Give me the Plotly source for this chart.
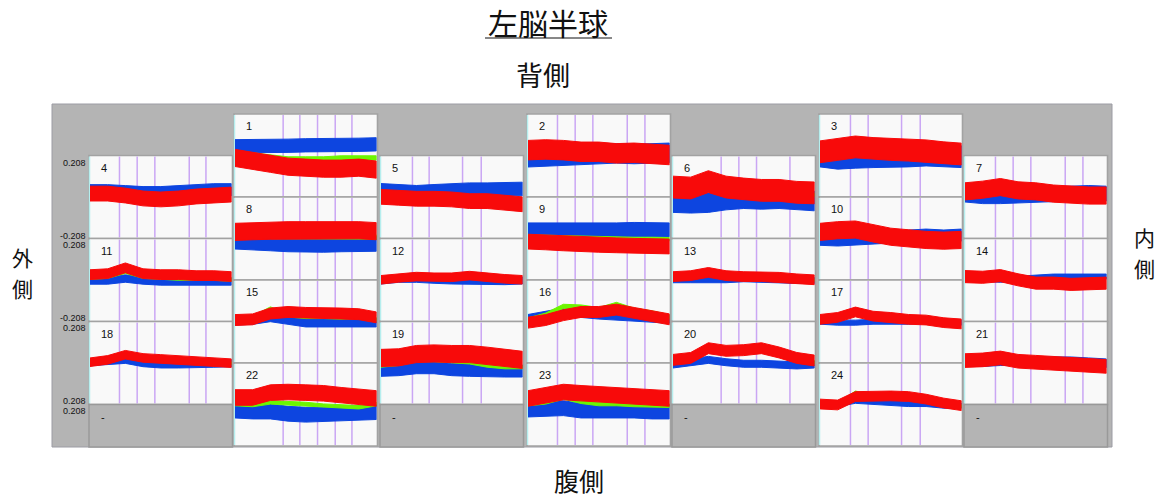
import plotly.graph_objects as go

W, H = 1163, 501

# ---------------------------------------------------------------- data
TIME_S = [0, 90, 180, 270, 360, 450, 540, 630, 720]
Y_RANGE = [-0.208, 0.208]

# probe layout: channel numbers per column, top to bottom (None = empty slot)
COLUMN_CHANNELS = [
    [4, 11, 18, None],
    [1, 8, 15, 22],
    [5, 12, 19, None],
    [2, 9, 16, 23],
    [6, 13, 20, None],
    [3, 10, 17, 24],
    [7, 14, 21, None],
]

# task onset markers (s) for each column of channels
COLUMN_EVENTS = [
    [150, 240, 330, 505, 590],
    [245, 330, 420, 510, 595],
    [160, 245, 415, 510],
    [150, 240, 330, 505, 595],
    [245, 335, 425, 595],
    [155, 245, 415, 510],
    [155, 245, 335, 510, 600],
]

# oxy-Hb (red), deoxy-Hb (blue), total-Hb (green) per channel
oxy_01 = [-0.0125, -0.0275, -0.0425, -0.0575, -0.0625, -0.0675, -0.0675, -0.0625, -0.0725]
deoxy_01 = [0.0475, 0.0475, 0.05, 0.05, 0.0525, 0.0525, 0.055, 0.055, 0.0575]
total_01 = [0.0125, 0.0025, -0.0075, -0.0175, -0.0175, -0.0175, -0.0125, -0.0125, -0.0125]

oxy_02 = [0.0275, 0.031, 0.0275, 0.019, 0.019, 0.011, 0.014, 0.0075, 0.0025]
deoxy_02 = [-0.009, -0.006, -0.0025, 0.0025, 0.0075, 0.011, 0.0075, 0.011, 0.014]
total_02 = None

oxy_03 = [0.019, 0.031, 0.044, 0.036, 0.031, 0.0275, 0.024, 0.014, 0.0075]
deoxy_03 = [-0.0025, -0.014, -0.009, -0.006, -0.0025, -0.0025, 0.0025, -0.0025, -0.006]
total_03 = None

oxy_04 = [0.0175, 0.0175, 0.0075, -0.0075, -0.0125, -0.0075, 0.0025, 0.0075, 0.0125]
deoxy_04 = [0.0325, 0.0325, 0.0275, 0.0225, 0.0225, 0.0275, 0.0325, 0.0375, 0.0375]
total_04 = None

oxy_05 = [0.001, -0.004, -0.009, -0.009, -0.0125, -0.021, -0.021, -0.029, -0.0375]
deoxy_05 = [0.034, 0.029, 0.024, 0.029, 0.034, 0.0375, 0.0375, 0.0375, 0.041]
total_05 = None

oxy_06 = [0.051, 0.046, 0.079, 0.051, 0.041, 0.034, 0.034, 0.024, 0.021]
deoxy_06 = [-0.029, -0.0325, -0.029, -0.016, -0.009, -0.0125, -0.009, -0.016, -0.021]
total_06 = [0.029, 0.029, 0.041, 0.034, 0.029, 0.024, 0.021, 0.016, 0.011]

oxy_07 = [0.029, 0.0375, 0.051, 0.034, 0.029, 0.0175, 0.0125, 0.0075, 0.0075]
deoxy_07 = [0.0125, 0.004, 0.004, 0.0075, 0.0125, 0.0125, 0.0175, 0.021, 0.0175]
total_07 = None

oxy_08 = [0.034, 0.0375, 0.04, 0.0425, 0.0425, 0.0425, 0.0425, 0.0425, 0.0375]
deoxy_08 = [-0.016, -0.02, -0.025, -0.03, -0.0325, -0.0325, -0.03, -0.0275, -0.0275]
total_08 = [0.0175, 0.015, 0.01, 0.0075, 0.0075, 0.0075, 0.0075, 0.0075, 0.0075]

oxy_09 = [-0.016, -0.02, -0.025, -0.03, -0.0325, -0.035, -0.0375, -0.04, -0.041]
deoxy_09 = [0.045, 0.045, 0.0425, 0.045, 0.045, 0.045, 0.0475, 0.045, 0.045]
total_09 = [0.01, 0.0075, 0.005, 0.0025, 0.001, 0.0, -0.0025, -0.0025, -0.004]

oxy_10 = [0.034, 0.0425, 0.046, 0.026, 0.009, 0.001, -0.0075, -0.011, -0.0075]
deoxy_10 = [-0.004, -0.0075, -0.004, 0.001, 0.009, 0.0125, 0.0175, 0.0125, 0.0175]
total_10 = None

oxy_11 = [0.0275, 0.0325, 0.0625, 0.0325, 0.0275, 0.0275, 0.0225, 0.0225, 0.0175]
deoxy_11 = [-0.0025, -0.0025, 0.0075, -0.0025, -0.0075, -0.0075, -0.0075, -0.0075, -0.0075]
total_11 = [0.0125, 0.0175, 0.0425, 0.0175, 0.0125, 0.0075, 0.0075, 0.0075, 0.0025]

oxy_12 = [0.001, 0.011, 0.0175, 0.014, 0.014, 0.0225, 0.014, 0.006, 0.001]
deoxy_12 = [-0.0025, 0.006, 0.006, 0.001, -0.0025, -0.0025, -0.006, -0.006, -0.0025]
total_12 = None

oxy_13 = [0.0175, 0.0225, 0.039, 0.0225, 0.0175, 0.0175, 0.014, 0.006, 0.001]
deoxy_13 = [0.001, 0.001, 0.0025, 0.001, 0.006, 0.0025, 0.001, -0.0025, -0.0025]
total_13 = [0.015, 0.02, 0.035, 0.02, 0.015, 0.015, 0.012, 0.004, 0.0]

oxy_14 = [0.0175, 0.014, 0.0225, 0.001, -0.016, -0.016, -0.0225, -0.019, -0.016]
deoxy_14 = [0.006, 0.006, 0.001, 0.006, 0.014, 0.0175, 0.0175, 0.0175, 0.0175]
total_14 = None

oxy_15 = [0.0075, 0.011, 0.041, 0.049, 0.044, 0.044, 0.041, 0.0375, 0.021]
deoxy_15 = [0.004, 0.0075, 0.021, 0.0075, -0.006, -0.009, -0.009, -0.006, -0.006]
total_15 = [0.0075, 0.019, 0.066, 0.0325, 0.024, 0.024, 0.021, 0.024, 0.011]

oxy_16 = [-0.006, 0.0075, 0.0325, 0.049, 0.049, 0.061, 0.044, 0.0275, 0.011]
deoxy_16 = [0.016, 0.0325, 0.049, 0.041, 0.0325, 0.024, 0.021, 0.016, 0.011]
total_16 = [0.0075, 0.0325, 0.0775, 0.074, 0.061, 0.0875, 0.0575, 0.044, 0.024]

oxy_17 = [0.011, 0.021, 0.049, 0.0275, 0.021, 0.011, 0.0075, -0.006, -0.0125]
deoxy_17 = [-0.001, -0.006, -0.006, -0.001, -0.001, -0.001, 0.004, -0.001, -0.006]
total_17 = None

oxy_18 = [0.004, 0.016, 0.0425, 0.026, 0.021, 0.016, 0.0125, 0.004, -0.001]
deoxy_18 = [0.004, 0.009, 0.016, -0.001, -0.0075, -0.0075, -0.0075, -0.004, -0.001]
total_18 = [0.004, 0.021, 0.049, 0.021, 0.0125, 0.009, 0.004, -0.001, -0.001]

oxy_19 = [0.026, 0.029, 0.046, 0.049, 0.046, 0.046, 0.0375, 0.026, 0.016]
deoxy_19 = [-0.0375, -0.034, -0.024, -0.024, -0.034, -0.0375, -0.041, -0.041, -0.041]
total_19 = [-0.0125, -0.004, 0.016, 0.016, 0.009, 0.004, -0.0125, -0.021, -0.021]

oxy_20 = [0.016, 0.026, 0.076, 0.0625, 0.066, 0.076, 0.054, 0.026, 0.0125]
deoxy_20 = [-0.0075, 0.004, 0.016, 0.004, -0.004, -0.004, -0.0075, -0.0125, -0.0075]
total_20 = [0.016, 0.026, 0.0875, 0.064, 0.064, 0.071, 0.049, 0.016, 0.004]

oxy_21 = [0.0125, 0.016, 0.026, 0.009, 0.004, -0.001, -0.0075, -0.0125, -0.0175]
deoxy_21 = [0.004, 0.004, 0.009, 0.0125, 0.009, 0.009, 0.009, 0.004, -0.001]
total_21 = None

oxy_22 = [0.036, 0.036, 0.061, 0.064, 0.061, 0.0575, 0.0475, 0.041, 0.031]
deoxy_22 = [-0.031, -0.036, -0.036, -0.0475, -0.0525, -0.0525, -0.0475, -0.0425, -0.039]
total_22 = [0.0025, -0.0025, 0.011, 0.0075, 0.0025, -0.006, -0.009, -0.014, 0.0025]

oxy_23 = [0.031, 0.0475, 0.064, 0.0575, 0.0525, 0.0475, 0.041, 0.036, 0.031]
deoxy_23 = [-0.026, -0.0225, -0.019, -0.031, -0.031, -0.031, -0.031, -0.036, -0.036]
total_23 = [0.0025, 0.011, 0.036, 0.014, 0.0025, 0.0025, -0.0025, -0.006, -0.006]

oxy_24 = [0.0025, -0.0025, 0.041, 0.044, 0.044, 0.041, 0.0275, 0.0075, -0.006]
deoxy_24 = [0.0075, 0.0025, 0.019, 0.011, 0.0075, 0.0025, 0.0025, -0.006, -0.006]
total_24 = [0.0025, 0.0, 0.061, 0.044, 0.041, 0.036, 0.024, 0.004, -0.009]

# fluctuation half-width of each signal band, channels 1..24
OXY_SPREAD = [0.044, 0.05, 0.056, 0.038, 0.038, 0.056, 0.044, 0.044, 0.038, 0.044, 0.025, 0.022,
              0.025, 0.031, 0.028, 0.028, 0.025, 0.022, 0.044, 0.028, 0.035, 0.04, 0.04, 0.025]
DEOXY_SPREAD = [0.034, 0.05, 0.056, 0.031, 0.035, 0.05, 0.038, 0.038, 0.035, 0.031, 0.019, 0.018,
                0.015, 0.013, 0.022, 0.02, 0.013, 0.018, 0.031, 0.018, 0.022, 0.038, 0.038, 0.013]
TOTAL_SPREAD = [0.011, 0.0, 0.0, 0.0, 0.0, 0.009, 0.0, 0.011, 0.009, 0.0, 0.009, 0.0,
                0.007, 0.0, 0.009, 0.011, 0.0, 0.008, 0.009, 0.009, 0.0, 0.009, 0.009, 0.008]

AXIS_LABELS = ["0.208", "-0.208", "0.208", "-0.208", "0.208", "0.208", "0.208"]

OXY = {n: globals()[f"oxy_{n:02d}"] for n in range(1, 25)}
DEOXY = {n: globals()[f"deoxy_{n:02d}"] for n in range(1, 25)}
TOTAL = {n: globals()[f"total_{n:02d}"] for n in range(1, 25)}

# ---------------------------------------------------------------- style
RED = "#f80a0a"
BLUE = "#0d45e0"
GREEN = "#6cf500"
EVENT_COLOR = "#caa6f4"
PANEL_BG = "#f9f9f9"
GRAY_BG = "#b4b4b4"
FRAME = "#a2a2a2"
CJK = "Noto Sans CJK JP"

COL_LEFT = [89, 234, 380, 527, 672, 819, 964]
PANEL_W = 143.5
PANEL_H = 83
ODD_TOP = 114
EVEN_TOP = 155.5
BG_BOX = (52, 104, 1112, 447)


def fx(x):
    return x / W


def fy(y):
    return 1 - y / H


fig = go.Figure()
shapes = []
annotations = []
layout_axes = {}

# grey board behind all channels
shapes.append(dict(type="rect", xref="paper", yref="paper", layer="below",
                   x0=fx(BG_BOX[0]), x1=fx(BG_BOX[2]), y0=fy(BG_BOX[3]), y1=fy(BG_BOX[1]),
                   fillcolor=GRAY_BG, line=dict(color="#9c9ca4", width=1)))

axis_no = 0
for c, channels in enumerate(COLUMN_CHANNELS):
    left = COL_LEFT[c]
    right = left + PANEL_W
    top0 = ODD_TOP if c % 2 == 1 else EVEN_TOP
    for r, ch in enumerate(channels):
        top = top0 + r * PANEL_H
        bottom = min(top + PANEL_H, BG_BOX[3])
        if ch is None:
            shapes.append(dict(type="rect", xref="paper", yref="paper", layer="below",
                               x0=fx(left), x1=fx(right), y0=fy(bottom), y1=fy(top),
                               fillcolor=GRAY_BG, line=dict(color="#999999", width=1.5)))
            annotations.append(dict(x=fx(left + 10), y=fy(top + 12), xref="paper", yref="paper",
                                    text="-", showarrow=False, xanchor="left", yanchor="middle",
                                    font=dict(family="Arial", size=11, color="#111")))
            continue

        shapes.append(dict(type="rect", xref="paper", yref="paper", layer="below",
                           x0=fx(left), x1=fx(right), y0=fy(bottom), y1=fy(top),
                           fillcolor=PANEL_BG, line=dict(color=FRAME, width=1.6)))
        shapes.append(dict(type="line", xref="paper", yref="paper", layer="below",
                           x0=fx(left + 0.5), x1=fx(left + 0.5), y0=fy(bottom - 1), y1=fy(top + 1),
                           line=dict(color="#b6eeee", width=1.5)))

        axis_no += 1
        sfx = "" if axis_no == 1 else str(axis_no)
        layout_axes[f"xaxis{sfx}"] = dict(domain=[fx(left + 1), fx(right - 1)], range=[0, 720],
                                         visible=False, fixedrange=True)
        layout_axes[f"yaxis{sfx}"] = dict(domain=[fy(bottom - 1), fy(top + 1)], range=Y_RANGE,
                                         visible=False, fixedrange=True)
        xr, yr = f"x{sfx}", f"y{sfx}"

        for t in COLUMN_EVENTS[c]:
            shapes.append(dict(type="line", xref=xr, yref=f"{yr} domain", layer="below",
                               x0=t, x1=t, y0=0, y1=1,
                               line=dict(color=EVENT_COLOR, width=1.5)))

        series = [(DEOXY[ch], DEOXY_SPREAD[ch - 1], BLUE),
                  (TOTAL[ch], TOTAL_SPREAD[ch - 1], GREEN),
                  (OXY[ch], OXY_SPREAD[ch - 1], RED)]
        for values, spread, color in series:
            if values is None:
                continue
            upper = [v + spread for v in values]
            lower = [v - spread for v in values]
            fig.add_trace(go.Scatter(
                x=TIME_S + TIME_S[::-1], y=upper + lower[::-1],
                xaxis=xr, yaxis=yr, mode="lines", fill="toself",
                fillcolor=color, line=dict(color=color, width=1),
                hoverinfo="skip", showlegend=False))

        annotations.append(dict(x=fx(left + 10), y=fy(top + 12), xref="paper", yref="paper",
                                text=str(ch), showarrow=False, xanchor="left", yanchor="middle",
                                font=dict(family="Arial", size=11, color="#111")))

# value scale at the left of the board
label_y = [163, 235.5, 245.5, 317.5, 327.5, 400.5, 410.5]
for txt, yy in zip(AXIS_LABELS, label_y):
    annotations.append(dict(x=fx(87), y=fy(yy), xref="paper", yref="paper", text=txt,
                            showarrow=False, xanchor="right", yanchor="middle", borderpad=0,
                            font=dict(family="Arial", size=9, color="#111")))

# headings and orientation labels (side labels: one character per line)
headings = [
    (548, 22, "左脳半球", 30),
    (543, 75, "背側", 27),
    (579, 480, "腹側", 25),
    (22, 257, "外", 21),
    (22, 288, "側", 21),
    (1144, 237, "内", 21),
    (1144, 268, "側", 21),
]
for x, y, txt, size in headings:
    annotations.append(dict(x=fx(x), y=fy(y), xref="paper", yref="paper", text=txt,
                            showarrow=False, xanchor="center", yanchor="middle", borderpad=0,
                            font=dict(family=CJK, size=size, color="#111")))

shapes.append(dict(type="line", xref="paper", yref="paper", x0=fx(485), x1=fx(612),
                   y0=fy(38), y1=fy(38), line=dict(color="#111", width=1)))

fig.update_layout(
    width=W, height=H, margin=dict(l=0, r=0, t=0, b=0),
    paper_bgcolor="white", plot_bgcolor="rgba(0,0,0,0)",
    shapes=shapes, annotations=annotations, showlegend=False,
    **layout_axes,
)

fig.write_html("out.html")
